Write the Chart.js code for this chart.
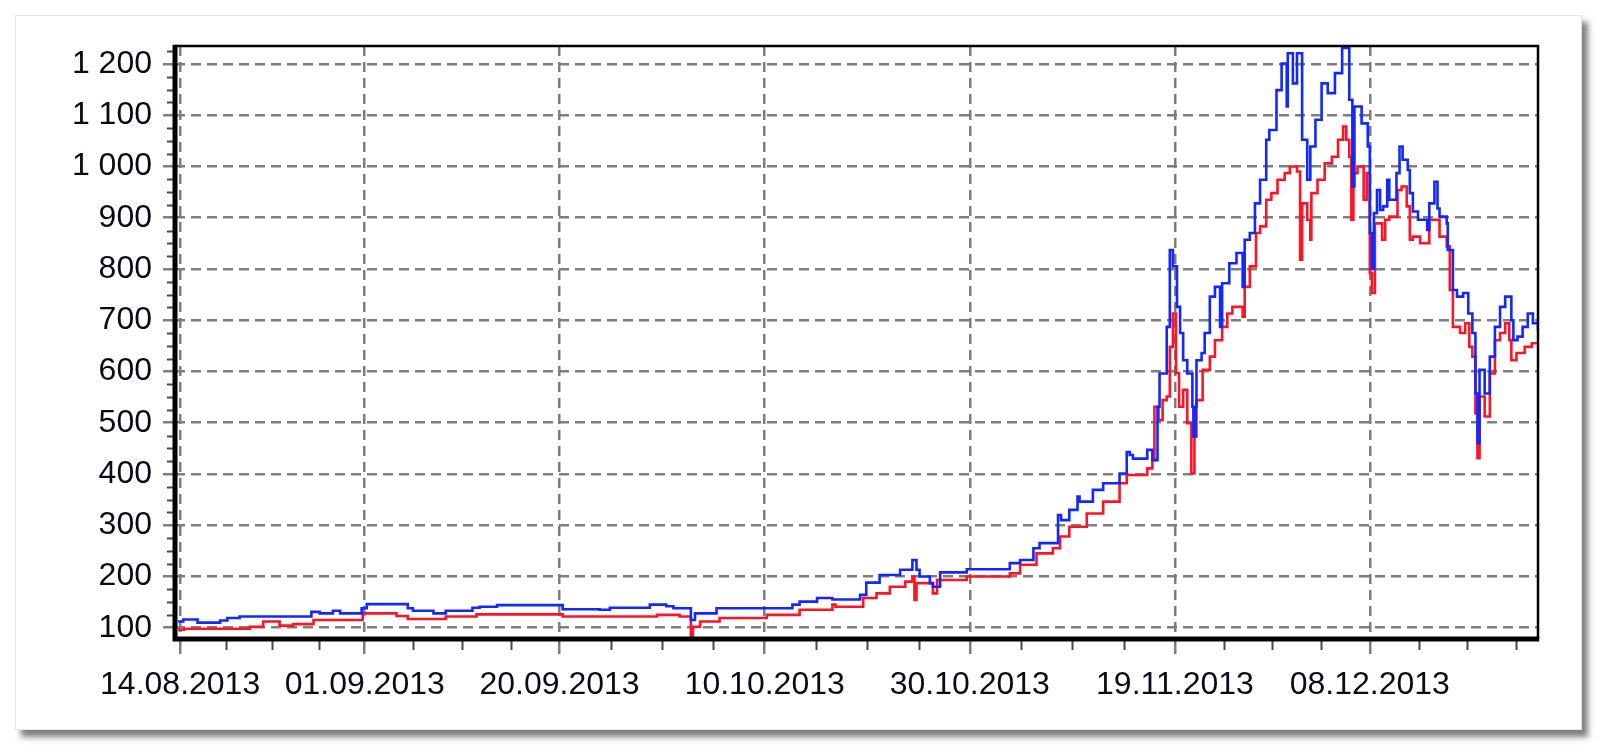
<!DOCTYPE html>
<html><head><meta charset="utf-8">
<script src="https://cdn.jsdelivr.net/npm/chart.js@4/dist/chart.umd.min.js"></script>
<style>
html,body{margin:0;padding:0;background:#fff;}
body{width:1600px;height:748px;position:relative;overflow:hidden;}
#panel{position:absolute;left:15px;top:15px;width:1567px;height:715px;background:#fff;border:1px solid #e4e4e4;box-sizing:border-box;box-shadow:6px 7px 6px rgba(0,0,0,0.5);}
#wrap{position:absolute;left:0;top:0;width:1600px;height:748px;}
</style></head><body>
<div id="panel"></div>
<div id="wrap"><canvas id="c" width="1600" height="748"></canvas></div>
<script>
// x values are days after 14.08.2013
const xTickDays = [0, 18, 37, 57, 77, 97, 116];
const xTickLabels = ['14.08.2013','01.09.2013','20.09.2013','10.10.2013','30.10.2013','19.11.2013','08.12.2013'];
const yTickValues = [100,200,300,400,500,600,700,800,900,1000,1100,1200];
const yTickLabels = ['100','200','300','400','500','600','700','800','900','1 000','1 100','1 200'];

const blueDays = [-0.2,0.3,1.7,3.9,4.6,5.8,12.8,13.6,14.9,15.6,17.7,18.2,22.2,22.7,24.7,25.9,28.5,29.2,30.9,37.3,40.9,41.9,45.8,47.4,48.1,49.8,50.2,52.3,59.7,60.4,62.1,63.6,66.3,66.9,68.2,70.2,71.4,71.8,72.1,73.1,73.4,74.1,76.7,
80.9,81.9,83.2,83.8,85.6,85.9,86.7,87.5,87.7,89.0,90.0,91.6,92.3,92.6,92.9,94.3,94.8,95.3,95.5,96.2,96.5,96.8,97.2,97.5,97.8,98.2,98.7,98.8,99.0,99.1,99.6,99.9,100.4,100.9,101.4,101.6,102.3,103.0,103.6,103.8,104.3,104.8,105.3,105.9,106.2,106.9,107.4,107.9,108.0,108.5,108.9,109.4,109.9,110.2,110.7,111.3,111.9,112.6,113.3,114.0,114.3,114.5,115.2,115.8,116.0,116.2,116.4,116.7,117.0,117.3,117.7,117.9,118.6,118.9,119.2,119.7,119.9,120.2,120.7,121.6,121.8,122.3,122.6,122.8,123.5,123.6,124.1,124.5,125.1,125.6,126.0,126.3,126.5,126.7,127.2,127.7,128.2,128.7,129.2,129.8,130.0,130.4,130.9,131.4,131.9,132.4];
const blueValues = [112,116,110,114,119,122,131,128,133,128,138,146,138,133,128,133,139,141,144,136,135,139,145,142,138,115,128,138,145,151,158,155,164,188,203,213,232,213,200,187,180,208,214,
226,232,255,265,320,310,330,356,346,369,382,401,443,437,430,447,427,531,596,687,837,805,726,675,622,596,531,473,531,622,636,675,746,765,687,772,811,831,765,857,870,928,974,1052,1071,1149,1201,1117,1221,1162,1221,1052,974,1039,1091,1162,1143,1182,1231,1130,961,1117,1084,1039,870,800,909,954,915,922,974,935,987,1039,1013,993,948,912,896,876,928,970,918,902,889,837,759,746,753,713,675,557,460,603,557,629,687,726,746,700,661,668,687,713,694,680];

const redDays = [-0.2,0.4,6.8,8.1,9.7,11.0,13.0,17.8,21.1,22.2,25.9,28.9,37.3,46.5,48.7,49.8,50.0,50.7,52.6,57.2,60.4,63.6,63.9,66.6,67.9,69.2,70.7,71.4,71.6,71.8,73.4,73.8,76.7,
80.9,81.9,83.5,85.1,85.8,86.7,88.4,90.0,91.6,92.3,94.3,94.8,95.0,95.4,95.8,96.2,96.5,96.8,97.1,97.4,97.8,98.2,98.6,98.9,99.1,99.7,100.4,100.9,101.6,102.1,102.6,103.6,103.8,104.3,104.9,105.3,105.9,106.4,107.0,107.7,108.2,108.9,109.2,109.4,109.9,110.2,110.3,110.9,111.6,112.3,112.9,113.4,113.7,114.0,114.2,114.4,114.8,115.4,115.7,116.0,116.2,116.5,117.2,117.5,117.9,118.7,119.1,119.6,119.9,120.2,120.9,121.8,122.8,123.5,123.8,124.1,124.8,125.3,125.7,126.0,126.3,126.5,126.7,127.2,127.7,128.2,128.7,129.2,129.6,129.8,130.3,131.1,131.8,132.4];
const redValues = [96,98,102,112,104,107,115,128,123,117,122,126,122,125,122,82,102,112,119,125,135,145,141,158,167,180,190,200,154,187,167,193,200,
206,223,245,255,278,297,323,346,382,398,411,427,531,505,544,551,648,713,597,531,564,499,401,473,544,603,629,661,687,713,726,707,765,805,870,883,935,948,974,987,1000,990,818,928,896,857,948,974,1006,1019,1052,1078,1052,1019,896,987,1000,935,987,792,753,889,857,896,902,954,961,922,857,863,850,896,863,844,759,687,675,694,648,629,518,431,551,512,596,661,675,694,661,622,636,648,655,655];

function pts(days, vals){ const n=Math.min(days.length, vals.length); const o=[]; for(let i=0;i<n;i++) o.push({x:days[i], y:vals[i]}); return o; }

const FONT = {family:"'Liberation Sans', Arial, sans-serif", size:32, lineHeight:1.2};
const TEXT = '#0a0a18';
const GRID = '#7e7e7e';

const framePlugin = {
  id:'frame',
  afterDatasetsDraw(chart){
    const {ctx, chartArea:a, scales:{x,y}} = chart;
    ctx.save();
    ctx.strokeStyle = '#4a4a4a'; ctx.lineWidth = 2;
    ctx.beginPath();
    for (let v = 75; v <= 1250; v += 25) {
      if (v % 100 === 0) continue;
      if (v < y.min || v > y.max) continue;
      const py = Math.round(y.getPixelForValue(v)) + 0.5;
      ctx.moveTo(a.left - 8, py); ctx.lineTo(a.left - 2, py);
    }
    const steps = [];
    for (let i = 0; i < xTickDays.length - 1; i++) {
      const s = (xTickDays[i+1] - xTickDays[i]) / 4;
      for (let k = 1; k < 4; k++) steps.push(xTickDays[i] + s*k);
    }
    const lastStep = (xTickDays[xTickDays.length-1] - xTickDays[xTickDays.length-2]) / 4;
    for (let d = xTickDays[xTickDays.length-1] + lastStep; d < x.max; d += lastStep) steps.push(d);
    for (const d of steps) {
      const px = Math.round(x.getPixelForValue(d)) + 0.5;
      ctx.moveTo(px, a.bottom + 2); ctx.lineTo(px, a.bottom + 11);
    }
    ctx.stroke();
    ctx.strokeStyle = '#000';
    ctx.lineWidth = 2.5;
    ctx.beginPath();
    ctx.moveTo(a.left, a.top); ctx.lineTo(a.right, a.top); ctx.lineTo(a.right, a.bottom);
    ctx.stroke();
    ctx.lineWidth = 5;
    ctx.beginPath();
    ctx.moveTo(a.left, a.top - 1.2); ctx.lineTo(a.left, a.bottom); ctx.lineTo(a.right + 1.2, a.bottom);
    ctx.stroke();
    ctx.restore();
  }
};

const gridOpts = (len) => ({color:GRID, lineWidth:2.5, tickColor:GRID, tickWidth:2.5, tickLength:len, tickBorderDash:[]});
const borderOpts = {display:false, dash:[10,6], dashOffset:0};

new Chart(document.getElementById('c'), {
  type:'line',
  data:{ datasets:[
    {label:'blue', data:pts(blueDays, blueValues), borderColor:'#1228ff', borderWidth:2.6, pointRadius:0, stepped:true, tension:0},
    {label:'red', data:pts(redDays, redValues), borderColor:'#ff1426', borderWidth:2.6, pointRadius:0, stepped:true, tension:0}
  ]},
  options:{
    responsive:false, animation:false, devicePixelRatio:1,
    layout:{padding:{left:0, top:46, right:62, bottom:0}},
    plugins:{legend:{display:false}, tooltip:{enabled:false}},
    scales:{
      x:{ type:'linear', min:-0.5, max:132.4,
        afterFit(s){ s.height = 748 - 639; },
        afterBuildTicks(s){ s.ticks = xTickDays.map(v=>({value:v})); },
        border:borderOpts,
        grid:gridOpts(15),
        ticks:{ autoSkip:false, maxRotation:0, padding:12, color:TEXT, font:FONT,
          callback(v){ const i = xTickDays.indexOf(v); return i>=0 ? xTickLabels[i] : ''; } }
      },
      y:{ type:'linear', min:78, max:1235,
        afterFit(s){ s.width = 175; },
        afterBuildTicks(s){ s.ticks = yTickValues.map(v=>({value:v})); },
        border:borderOpts,
        grid:gridOpts(12),
        ticks:{ autoSkip:false, padding:11, color:TEXT, font:FONT,
          callback(v){ const i = yTickValues.indexOf(v); return i>=0 ? yTickLabels[i] : ''; } }
      }
    }
  },
  plugins:[framePlugin]
});
</script>
</body></html>
